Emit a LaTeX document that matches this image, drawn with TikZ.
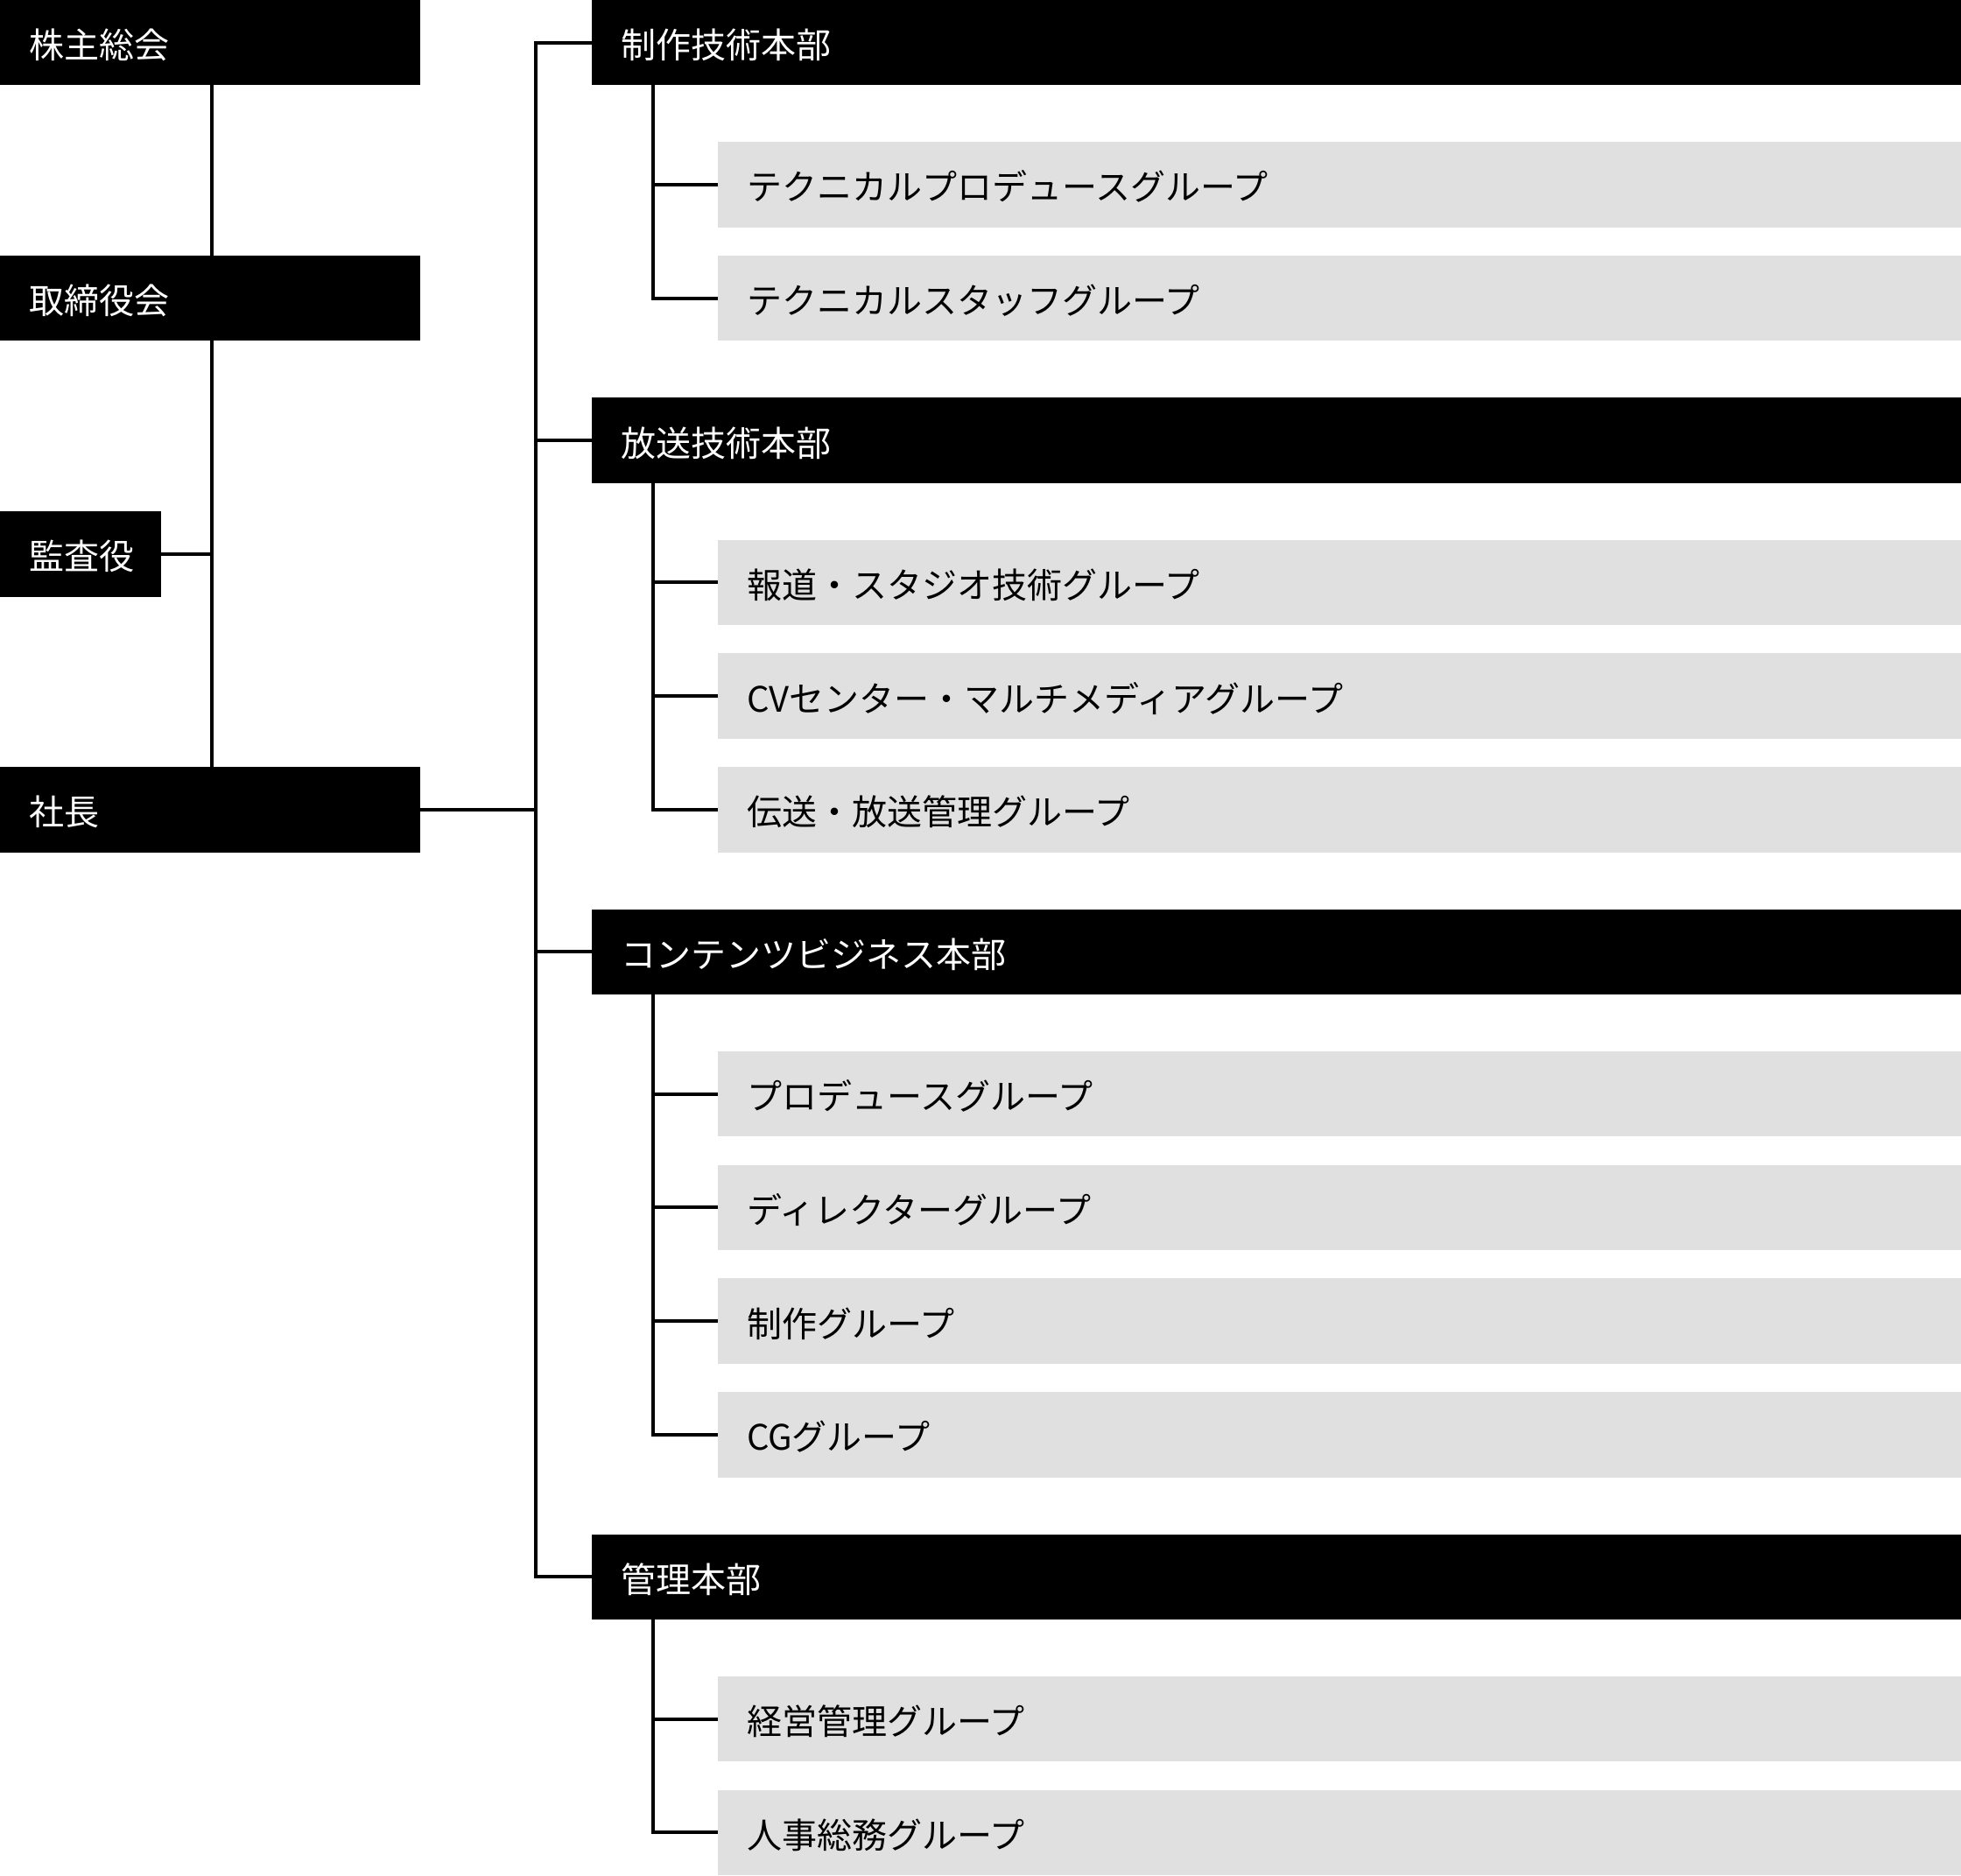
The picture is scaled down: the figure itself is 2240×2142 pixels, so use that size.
\documentclass[tikz,border=0pt]{standalone}
\usepackage{fontspec}
\newfontfamily\jpfont{Noto Sans CJK JP}
\definecolor{grpgray}{HTML}{E0E0E0}
\def\U{32.4545}
\newcommand\bxtxt[2]{\hspace*{33pt}\makebox[\dimexpr#1pt-33pt\relax][l]{#2}}
\tikzset{
  basebox/.style={rectangle, anchor=north west, inner sep=0pt, outer sep=0pt,
    minimum height=97.36pt, text height=46pt, text depth=10pt,
    font=\jpfont\fontsize{40pt}{48pt}\selectfont},
  blkbox/.style={basebox, fill=black, text=white},
  grpbox/.style={basebox, fill=grpgray, text=black},
  conn/.style={line width=4pt, draw=black}
}
\begin{document}
\begin{tikzpicture}[x=1pt,y=-1pt]
\useasboundingbox[fill=white] (0,0) rectangle (2240,2142);
% left column
\node[blkbox] (kabu) at (0,0) {\bxtxt{480}{株主総会}};
\node[blkbox] (tori) at (0,{9*\U}) {\bxtxt{480}{取締役会}};
\node[blkbox] (kansa) at (0,{18*\U}) {\bxtxt{184}{監査役}};
\node[blkbox] (shacho) at (0,{27*\U}) {\bxtxt{480}{社長}};
% headquarters
\node[blkbox] (h1) at (676,0) {\bxtxt{1564}{制作技術本部}};
\node[grpbox] (g11) at (820,{5*\U}) {\bxtxt{1420}{テクニカルプロデュースグループ}};
\node[grpbox] (g12) at (820,{9*\U}) {\bxtxt{1420}{テクニカルスタッフグループ}};
\node[blkbox] (h2) at (676,{14*\U}) {\bxtxt{1564}{放送技術本部}};
\node[grpbox] (g21) at (820,{19*\U}) {\bxtxt{1420}{報道・スタジオ技術グループ}};
\node[grpbox] (g22) at (820,{23*\U}) {\bxtxt{1420}{CVセンター・マルチメディアグループ}};
\node[grpbox] (g23) at (820,{27*\U}) {\bxtxt{1420}{伝送・放送管理グループ}};
\node[blkbox] (h3) at (676,{32*\U}) {\bxtxt{1564}{コンテンツビジネス本部}};
\node[grpbox] (g31) at (820,{37*\U}) {\bxtxt{1420}{プロデュースグループ}};
\node[grpbox] (g32) at (820,{41*\U}) {\bxtxt{1420}{ディレクターグループ}};
\node[grpbox] (g33) at (820,{45*\U}) {\bxtxt{1420}{制作グループ}};
\node[grpbox] (g34) at (820,{49*\U}) {\bxtxt{1420}{CGグループ}};
\node[blkbox] (h4) at (676,{54*\U}) {\bxtxt{1564}{管理本部}};
\node[grpbox] (g41) at (820,{59*\U}) {\bxtxt{1420}{経営管理グループ}};
\node[grpbox] (g42) at (820,{63*\U}) {\bxtxt{1420}{人事総務グループ}};
% trunk coordinates
\coordinate (L) at (242,0);
\coordinate (T) at (612,0);
\coordinate (S) at (746,0);
% left connectors
\draw[conn] (kabu.south -| L) -- (shacho.north -| L);
\draw[conn] (kansa.east) -- (kansa.east -| L);
\draw[conn] (shacho.east) -- (shacho.east -| T);
% main trunk
\draw[conn] (h1.west) -- (h1.west -| T) -- (h4.west -| T) -- (h4.west);
\draw[conn] (h2.west -| T) -- (h2.west);
\draw[conn] (h3.west -| T) -- (h3.west);
% sub trunks
\draw[conn] (h1.south -| S) -- (g12.west -| S) -- (g12.west);
\draw[conn] (g11.west -| S) -- (g11.west);
\draw[conn] (h2.south -| S) -- (g23.west -| S) -- (g23.west);
\draw[conn] (g21.west -| S) -- (g21.west);
\draw[conn] (g22.west -| S) -- (g22.west);
\draw[conn] (h3.south -| S) -- (g34.west -| S) -- (g34.west);
\draw[conn] (g31.west -| S) -- (g31.west);
\draw[conn] (g32.west -| S) -- (g32.west);
\draw[conn] (g33.west -| S) -- (g33.west);
\draw[conn] (h4.south -| S) -- (g42.west -| S) -- (g42.west);
\draw[conn] (g41.west -| S) -- (g41.west);
\end{tikzpicture}
\end{document}
